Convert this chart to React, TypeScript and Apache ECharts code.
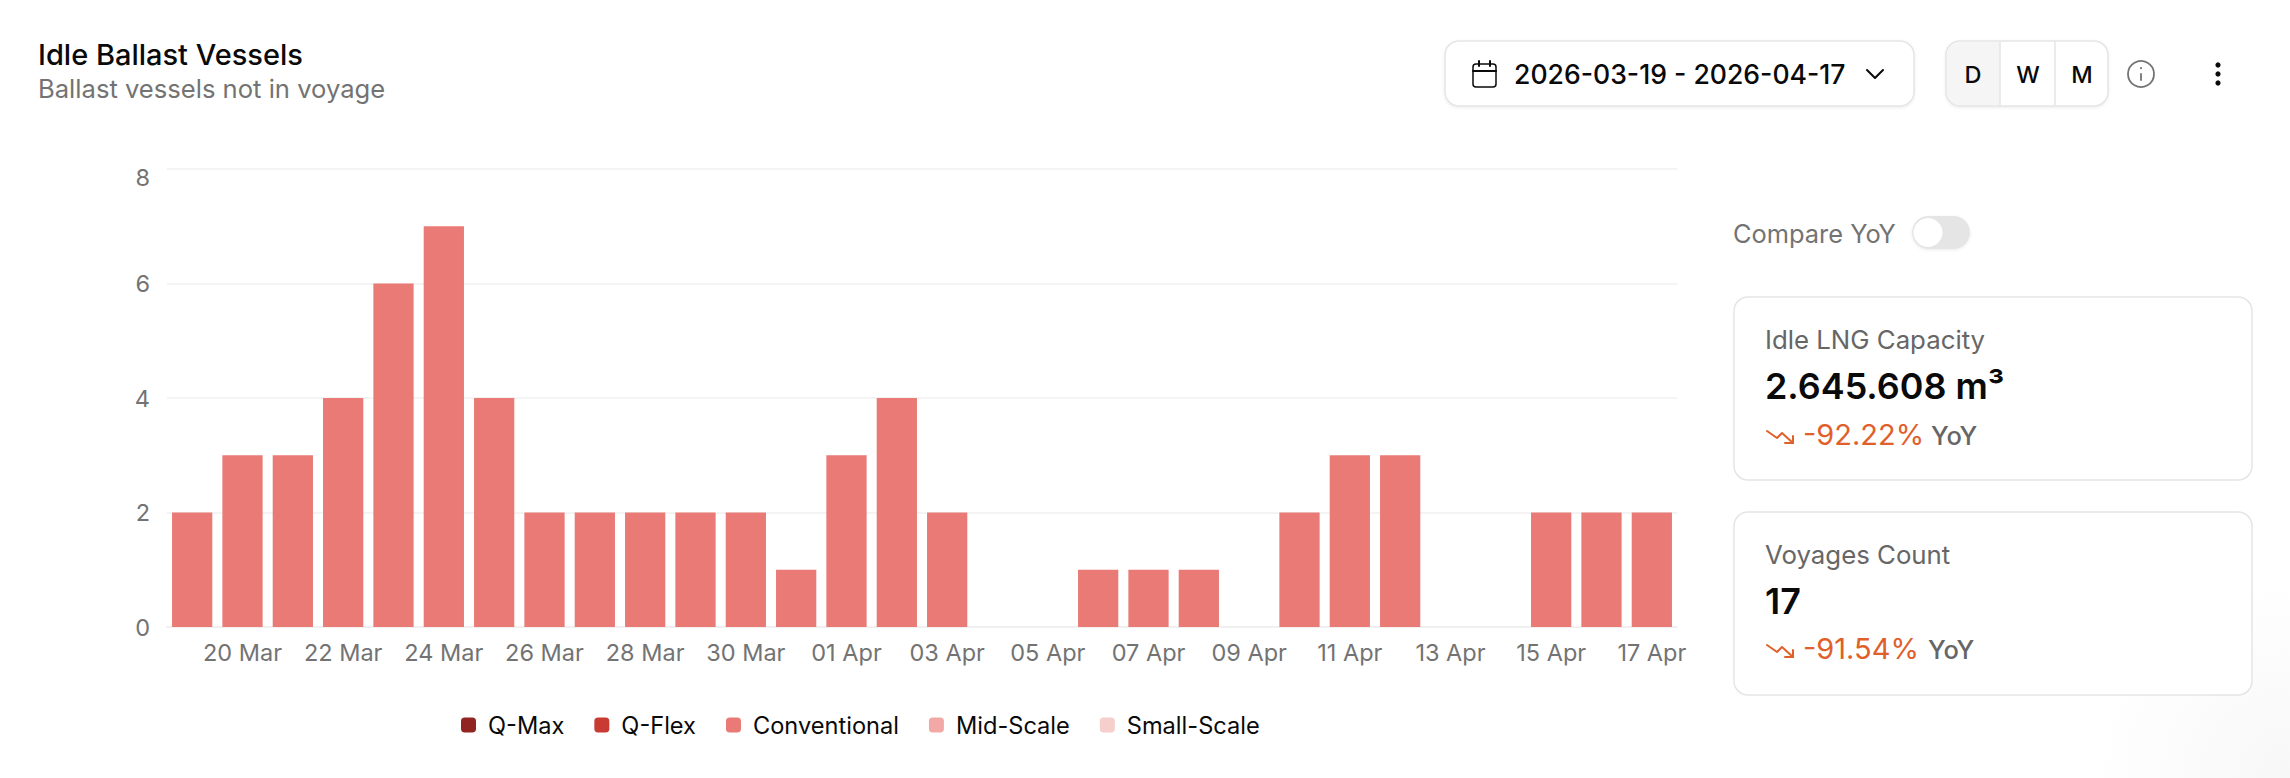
import React, { useEffect, useRef } from "react";
import * as echarts from "echarts";

const dates = [
  "19 Mar","20 Mar","21 Mar","22 Mar","23 Mar","24 Mar","25 Mar","26 Mar","27 Mar","28 Mar",
  "29 Mar","30 Mar","31 Mar","01 Apr","02 Apr","03 Apr","04 Apr","05 Apr","06 Apr","07 Apr",
  "08 Apr","09 Apr","10 Apr","11 Apr","12 Apr","13 Apr","14 Apr","15 Apr","16 Apr","17 Apr",
];
const conventional = [2,3,3,4,6,7,4,2,2,2,2,2,1,3,4,2,0,0,1,1,1,0,2,3,3,0,0,2,2,2];
const qMax: number[] = [];
const qFlex: number[] = [];
const midScale: number[] = [];
const smallScale: number[] = [];
const yTicks = { min: 0, max: 8, interval: 2 };

const FONT = "Inter";
const BORDER = "#e5e5e5";

const text = (x: number, y: number, t: string, size: number, fill: string, weight: number | string = 400, align = "left") => ({
  type: "text",
  x,
  y,
  silent: true,
  style: { text: t, fontFamily: FONT, fontSize: size, fontWeight: weight, fill, align, verticalAlign: "middle" },
});
const rect = (x: number, y: number, w: number, h: number, r: any, fill: string, stroke?: string, shadow = false) => ({
  type: "rect",
  silent: true,
  shape: { x, y, width: w, height: h, r },
  style: {
    fill,
    stroke: stroke || undefined,
    lineWidth: stroke ? 1.5 : 0,
    ...(shadow ? { shadowBlur: 3, shadowOffsetY: 1, shadowColor: "rgba(0,0,0,0.08)" } : {}),
  },
});
const line = (x1: number, y1: number, x2: number, y2: number, stroke: string, lineWidth = 2) => ({
  type: "line",
  silent: true,
  shape: { x1, y1, x2, y2 },
  style: { stroke, lineWidth, lineCap: "round" },
});
const poly = (points: number[][], stroke: string, lineWidth = 2) => ({
  type: "polyline",
  silent: true,
  shape: { points },
  style: { stroke, lineWidth, fill: "none", lineCap: "round", lineJoin: "round" },
});
const trendArrow = (dy: number) => [
  poly([[1767, 431 + dy], [1777, 438 + dy], [1782, 433 + dy], [1793, 443 + dy]], "#e0602c", 2),
  poly([[1793, 436 + dy], [1793, 443 + dy], [1785, 443 + dy]], "#e0602c", 2),
];

const graphics: any[] = [
  {
    type: "circle",
    silent: true,
    shape: { cx: 2290, cy: 778, r: 200 },
    style: {
      fill: new echarts.graphic.RadialGradient(0.5, 0.5, 0.5, [
        { offset: 0, color: "#f7f7f7" },
        { offset: 1, color: "#ffffff" },
      ]),
    },
  },
  text(38, 54, "Idle Ballast Vessels", 29, "#0a0a0a", 500),
  text(38, 88, "Ballast vessels not in voyage", 25.6, "#737373"),

  rect(1445, 41, 469, 65, 14, "#ffffff", BORDER, true),
  rect(1473, 64, 23, 23, 3, "none", "#0a0a0a"),
  line(1473, 71, 1496, 71, "#0a0a0a", 2),
  line(1479, 61, 1479, 66, "#0a0a0a", 2),
  line(1490, 61, 1490, 66, "#0a0a0a", 2),
  text(1514, 74, "2026-03-19 - 2026-04-17", 26.6, "#0a0a0a", 500),
  poly([[1867, 70], [1875, 78], [1883, 70]], "#0a0a0a", 2),

  rect(1946, 41, 162, 65, 14, "#ffffff", BORDER, true),
  rect(1947, 42, 53, 63, [13, 0, 0, 13], "#f5f5f5"),
  line(2000, 42, 2000, 105, BORDER, 1.5),
  line(2055, 42, 2055, 105, BORDER, 1.5),
  text(1973, 74, "D", 23.5, "#0a0a0a", 500, "center"),
  text(2028, 74, "W", 23.5, "#0a0a0a", 500, "center"),
  text(2082, 74, "M", 23.5, "#0a0a0a", 500, "center"),

  { type: "circle", silent: true, shape: { cx: 2141, cy: 74, r: 13 }, style: { fill: "none", stroke: "#737373", lineWidth: 1.8 } },
  line(2141, 74, 2141, 80, "#737373", 1.8),
  line(2141, 68, 2141, 68.2, "#737373", 2),
  { type: "circle", silent: true, shape: { cx: 2218, cy: 65, r: 2.6 }, style: { fill: "#0a0a0a" } },
  { type: "circle", silent: true, shape: { cx: 2218, cy: 74, r: 2.6 }, style: { fill: "#0a0a0a" } },
  { type: "circle", silent: true, shape: { cx: 2218, cy: 83, r: 2.6 }, style: { fill: "#0a0a0a" } },

  text(1733, 233, "Compare YoY", 25.4, "#737373"),
  rect(1912, 216, 58, 33, 16.5, "#e5e5e5", undefined, true),
  { type: "circle", silent: true, shape: { cx: 1928, cy: 232.5, r: 14.5 }, style: { fill: "#ffffff" } },

  rect(1734, 297, 518, 183, 14, "#ffffff", BORDER),
  text(1765, 339, "Idle LNG Capacity", 25.8, "#666666"),
  text(1765, 386, "2.645.608 m³", 35.9, "#0a0a0a", 600),
  ...trendArrow(0),
  text(1803, 434, "-92.22%", 29, "#e0602c"),
  text(1931, 435, "YoY", 25.5, "#666666", 500),

  rect(1734, 512, 518, 183, 14, "#ffffff", BORDER),
  text(1765, 554, "Voyages Count", 25.8, "#666666"),
  text(1765, 601, "17", 35.9, "#0a0a0a", 600),
  ...trendArrow(214),
  text(1803, 648, "-91.54%", 29, "#e0602c"),
  text(1928, 649, "YoY", 25.5, "#666666", 500),
];

const barSeries = (name: string, data: number[], color: string) => ({
  name,
  type: "bar",
  stack: "total",
  data,
  barWidth: "80%",
  itemStyle: { color },
  silent: true,
});

export default function App() {
  const ref = useRef<HTMLDivElement>(null);
  useEffect(() => {
    document.body.style.margin = "0";
    document.body.style.background = "#ffffff";
    const chart = echarts.init(ref.current!, null, { renderer: "svg" });
    chart.setOption({
      animation: false,
      backgroundColor: "#ffffff",
      textStyle: { fontFamily: FONT },
      grid: { left: 167, top: 169, width: 1510, height: 458, containLabel: false },
      legend: {
        left: 461,
        top: 713,
        padding: 0,
        icon: "roundRect",
        itemWidth: 15,
        itemHeight: 15,
        itemGap: 30,
        selectedMode: false,
        textStyle: { fontFamily: FONT, fontSize: 23.6, color: "#0a0a0a", padding: [0, 0, 0, 7] },
        data: ["Q-Max", "Q-Flex", "Conventional", "Mid-Scale", "Small-Scale"],
      },
      xAxis: {
        type: "category",
        data: dates,
        axisLine: { show: true, lineStyle: { color: "#f0f0f0", width: 2 } },
        axisTick: { show: false },
        axisLabel: {
          fontFamily: FONT,
          fontSize: 23.5,
          color: "#737373",
          margin: 13,
          interval: (i: number) => i % 2 === 1,
          hideOverlap: false,
        },
      },
      yAxis: {
        type: "value",
        ...yTicks,
        axisLine: { show: false },
        axisTick: { show: false },
        splitLine: { lineStyle: { color: "#f0f0f0", width: 1.5 } },
        axisLabel: {
          fontFamily: FONT,
          fontSize: 23.5,
          lineHeight: 16,
          color: "#737373",
          margin: 17,
          verticalAlignMaxLabel: "top",
        },
      },
      series: [
        barSeries("Q-Max", qMax, "#8f2420"),
        barSeries("Q-Flex", qFlex, "#c93a33"),
        barSeries("Conventional", conventional, "#ea7a75"),
        barSeries("Mid-Scale", midScale, "#f2a9a6"),
        barSeries("Small-Scale", smallScale, "#f6cecb"),
      ],
      graphic: { elements: graphics },
    });
    return () => chart.dispose();
  }, []);
  return <div ref={ref} style={{ position: "absolute", left: 0, top: 0, width: 2290, height: 778 }} />;
}
